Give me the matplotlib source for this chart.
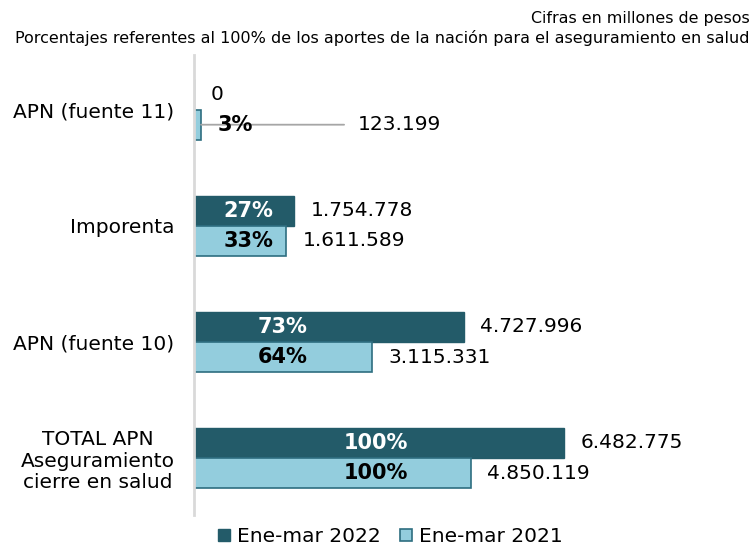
import matplotlib.pyplot as plt
import numpy as np

# data (millones de pesos)
categorias = ['APN (fuente 11)', 'Imporenta', 'APN (fuente 10)',
              'TOTAL APN\nAseguramiento\ncierre en salud']
valores_2022 = [0, 1754778, 4727996, 6482775]
valores_2021 = [123199, 1611589, 3115331, 4850119]
pct_2022 = ['', '27%', '73%', '100%']
pct_2021 = ['3%', '33%', '64%', '100%']
series = ['Ene-mar 2022', 'Ene-mar 2021']

# where the percentage labels sit (x, data units)
pct_pos = [0.72e6, 0.95e6, 1.56e6, 3.18e6]

c_dark = '#235B69'
c_light = '#93CDDD'
c_edge = '#2E6E80'


def miles(v):
    return '{:,}'.format(v).replace(',', '.')


fig = plt.figure(figsize=(7.55, 5.5), dpi=100)
ax = fig.add_axes([194/755, 1-515/550, 1-194/755-0.01, 460/550])

y = np.arange(len(categorias))
h = 0.26
b1 = ax.barh(y - h/2, valores_2022, height=h, color=c_dark, edgecolor=c_dark,
             linewidth=1, label=series[0])
b2 = ax.barh(y + h/2, valores_2021, height=h, color=c_light, edgecolor=c_edge,
             linewidth=1.2, label=series[1])

ax.set_xlim(0, 9.7e6)
ax.set_ylim(3.49, -0.47)
ax.set_yticks(y)
ax.set_yticklabels(categorias, fontsize=14.5)
for lbl in ax.get_yticklabels():
    lbl.set_multialignment('center')
    lbl.set_linespacing(1.15)
ax.tick_params(axis='y', length=0, pad=14)
ax.set_xticks([])
for s in ['top', 'right', 'bottom']:
    ax.spines[s].set_visible(False)
ax.spines['left'].set_color('#D9D9D9')
ax.spines['left'].set_linewidth(2)

# value labels
fs = 14.5
for i in range(len(categorias)):
    ax.annotate(miles(valores_2022[i]), (valores_2022[i], y[i] - h/2),
                xytext=(12, 0), textcoords='offset points',
                va='center', ha='left', fontsize=fs)
    if i == 0:
        # small bar: label pulled out with a leader line
        ax.annotate(miles(valores_2021[i]), (valores_2021[i], y[i] + h/2),
                    xytext=(113, 0), textcoords='offset points',
                    va='center', ha='left', fontsize=fs,
                    arrowprops=dict(arrowstyle='-', color='#A6A6A6', lw=1.3,
                                    shrinkA=8, shrinkB=0))
    else:
        ax.annotate(miles(valores_2021[i]), (valores_2021[i], y[i] + h/2),
                    xytext=(12, 0), textcoords='offset points',
                    va='center', ha='left', fontsize=fs)
    if pct_2022[i]:
        ax.text(pct_pos[i], y[i] - h/2, pct_2022[i], color='white',
                fontsize=15, fontweight='bold', ha='center', va='center')
    ax.text(pct_pos[i], y[i] + h/2, pct_2021[i], color='black',
            fontsize=15, fontweight='bold', ha='center', va='center', zorder=5)

fig.text(0.993, 0.967, 'Cifras en millones de pesos', ha='right',
         va='center', fontsize=11.4)
fig.text(0.993, 0.931,
         'Porcentajes referentes al 100% de los aportes de la nación para el aseguramiento en salud',
         ha='right', va='center', fontsize=11.5)

fig.legend(handles=[b1, b2], loc='lower center', bbox_to_anchor=(0.517, -0.026),
           ncol=2, frameon=False, fontsize=14.5, handlelength=0.6,
           handleheight=0.6, handletextpad=0.3, columnspacing=1.0)

plt.savefig('out.png', dpi=100)
